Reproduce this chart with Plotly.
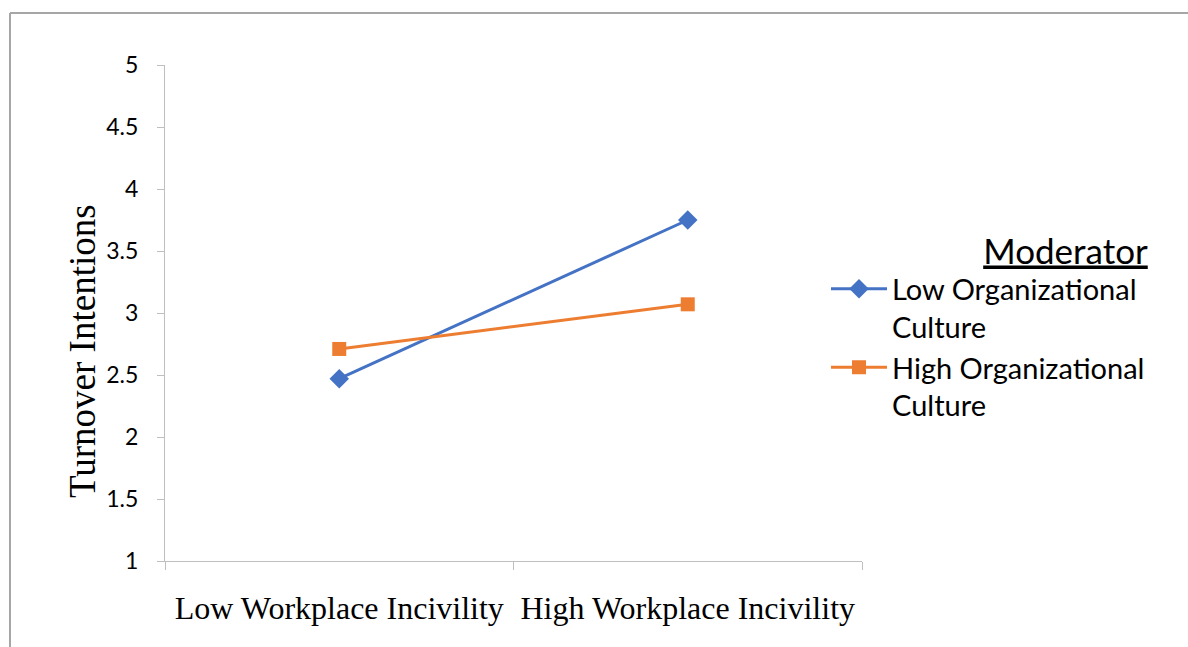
import plotly.graph_objects as go

categories = ["Low Workplace Incivility", "High Workplace Incivility"]
low_culture = [2.47, 3.75]
high_culture = [2.71, 3.07]
series_names = ["Low Organizational<br>Culture", "High Organizational<br>Culture"]
y_ticks = [1, 1.5, 2, 2.5, 3, 3.5, 4, 4.5, 5]
y_tick_labels = ["1", "1.5", "2", "2.5", "3", "3.5", "4", "4.5", "5"]
y_title = "Turnover Intentions"

L, R, T, B = 165, 1188 - 862, 65, 647 - 561
W, H = 1188, 647
pw, ph = W - L - R, H - T - B

fig = go.Figure()
fig.add_trace(go.Scatter(
    x=categories, y=low_culture, name=series_names[0], mode="lines+markers",
    line=dict(color="#4472C4", width=3),
    marker=dict(symbol="diamond", size=15, color="#4472C4"),
))
fig.add_trace(go.Scatter(
    x=categories, y=high_culture, name=series_names[1], mode="lines+markers",
    line=dict(color="#ED7D31", width=3),
    marker=dict(symbol="square", size=14, color="#ED7D31"),
))

def px_x(x):
    return (x - L) / pw

def px_y(y):
    return (H - B - y) / ph

# outer frame (only top and left edges visible in the crop)
fig.add_shape(type="line", xref="paper", yref="paper",
              x0=px_x(10), x1=px_x(1200), y0=px_y(13), y1=px_y(13),
              line=dict(color="#A6A6A6", width=2))
fig.add_shape(type="line", xref="paper", yref="paper",
              x0=px_x(10), x1=px_x(10), y0=px_y(13), y1=px_y(660),
              line=dict(color="#A6A6A6", width=2))

fig.add_annotation(
    text=y_title, textangle=-90, showarrow=False,
    xref="paper", yref="paper", x=px_x(82), y=px_y(351),
    xanchor="center", yanchor="middle",
    font=dict(family="Liberation Serif, Times New Roman, serif", size=37, color="black"),
)

fig.update_layout(
    width=W, height=H,
    margin=dict(l=L, r=R, t=T, b=B),
    paper_bgcolor="white", plot_bgcolor="white",
    showlegend=True,
    legend=dict(
        x=px_x(826), xanchor="left", y=px_y(218), yanchor="top",
        font=dict(family="Lato, Calibri, sans-serif", size=29, color="black"),
        title=dict(text="Moderator", side="top right",
                   font=dict(family="Lato, Calibri, sans-serif", size=35, color="black",
                             lineposition="under")),
        itemwidth=56, valign="top", tracegroupgap=9,
        bgcolor="rgba(0,0,0,0)",
    ),
    xaxis=dict(
        type="category", range=[-0.5, 1.5], tickson="boundaries",
        ticks="outside", ticklen=8, tickcolor="#BFBFBF",
        showline=True, linecolor="#BFBFBF", linewidth=1,
        showgrid=False, zeroline=False,
        tickfont=dict(family="Liberation Serif, Times New Roman, serif", size=32, color="black"),
        ticklabelstandoff=19,
    ),
    yaxis=dict(
        range=[1, 5], tickvals=y_ticks, ticktext=y_tick_labels,
        ticks="outside", ticklen=7, tickcolor="#BFBFBF",
        showline=True, linecolor="#BFBFBF", linewidth=1,
        showgrid=False, zeroline=False,
        tickfont=dict(family="Lato, Calibri, sans-serif", size=23, color="black"),
        ticklabelstandoff=14,
    ),
)

fig.write_html("out.html")
